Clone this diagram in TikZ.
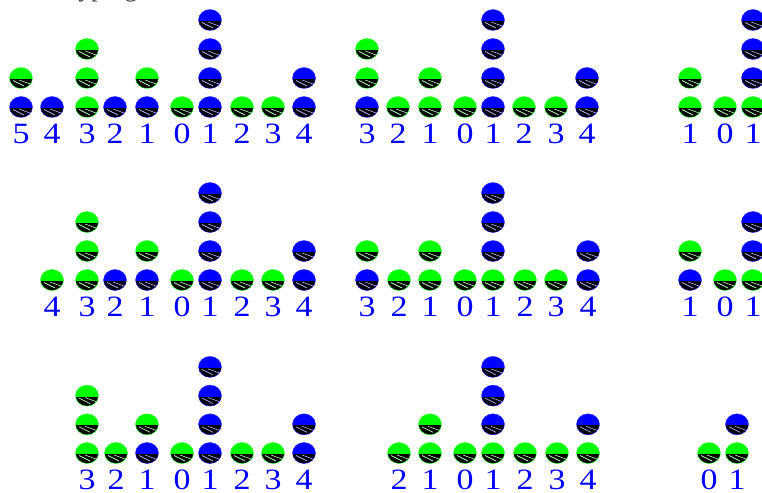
\documentclass[tikz,border=0pt]{standalone}
\usepackage{fontspec}
\setmainfont{Liberation Serif}
\newfontfamily\numfont[FakeStretch=1.15]{Liberation Serif}
\usetikzlibrary{shapes.geometric}
\definecolor{ballB}{RGB}{0,0,255}
\definecolor{ballG}{RGB}{0,255,0}
\definecolor{numblue}{RGB}{0,0,255}
\tikzset{
    ball/.style={ellipse, minimum width=23pt, minimum height=21pt, inner sep=0pt, fill=#1, draw=#1!80!white, line width=0.4pt,
        path picture={
            \fill[black] ([yshift=-1pt]path picture bounding box.west) rectangle (path picture bounding box.south east);
            \draw[#1!30!white, line width=0.7pt] ([xshift=-8pt,yshift=-2.5pt]path picture bounding box.center) -- ([xshift=3pt,yshift=-8pt]path picture bounding box.center);
            \draw[#1!30!white, line width=0.6pt] ([xshift=-2pt,yshift=-2pt]path picture bounding box.center) -- ([xshift=9pt,yshift=-6pt]path picture bounding box.center);
        }},
    num/.style={font=\numfont\fontsize{29.5}{32}\selectfont, text=numblue, inner sep=0pt, anchor=base},
}

\begin{document}
\begin{tikzpicture}[x=1pt, y=-1pt]
\useasboundingbox (0,0) rectangle (762,492);
\clip (0,0) rectangle (762,492);

% cut-off caption at the top edge
\node[font=\fontsize{26}{30}\selectfont, text=black!75, inner sep=0pt, anchor=base west] (caption) at (64,-3) {Typing};

% Row 1
\foreach \x/\n/\cols [count=\i] in {21/5/{B,G}, 52/4/{B}, 87/3/{G,G,G}, 115/2/{B}, 147/1/{B,G}, 182/0/{G}, 210/1/{B,B,B,B}, 242/2/{G}, 273/3/{G}, 304/4/{B,B},
    367/3/{B,G,G}, 398/2/{G}, 430/1/{G,G}, 465/0/{G}, 493/1/{B,B,B,B}, 524/2/{G}, 556/3/{G}, 587/4/{B,B},
    690/1/{G,G}, 725/0/{G}, 753/1/{G,B,B,B}} {
    \node[num] (na-\i) at (\x,143) {\n};
    \foreach \c [count=\k] in \cols
        \node[ball=ball\c] (ba-\i-\k) at (\x,{107-(\k-1)*29}) {};
}

% Row 2
\foreach \x/\n/\cols [count=\i] in {52/4/{G}, 87/3/{G,G,G}, 115/2/{B}, 147/1/{B,G}, 182/0/{G}, 210/1/{B,B,B,B}, 242/2/{G}, 273/3/{G}, 304/4/{B,B},
    367/3/{B,G}, 399/2/{G}, 430/1/{G,G}, 465/0/{G}, 493/1/{G,B,B,B}, 525/2/{G}, 556/3/{G}, 588/4/{B,B},
    690/1/{B,G}, 725/0/{G}, 753/1/{G,B,B}} {
    \node[num] (nb-\i) at (\x,316) {\n};
    \foreach \c [count=\k] in \cols
        \node[ball=ball\c] (bb-\i-\k) at (\x,{280-(\k-1)*29}) {};
}

% Row 3
\foreach \x/\n/\cols [count=\i] in {87/3/{G,G,G}, 116/2/{G}, 147/1/{B,G}, 182/0/{G}, 210/1/{B,B,B,B}, 242/2/{G}, 273/3/{G}, 304/4/{B,B},
    399/2/{G}, 430/1/{G,G}, 465/0/{G}, 493/1/{G,B,B,B}, 525/2/{G}, 557/3/{G}, 588/4/{G,B},
    709/0/{G}, 737/1/{G,B}} {
    \node[num] (nc-\i) at (\x,489) {\n};
    \foreach \c [count=\k] in \cols
        \node[ball=ball\c] (bc-\i-\k) at (\x,{453-(\k-1)*28.7}) {};
}

\end{tikzpicture}
\end{document}
